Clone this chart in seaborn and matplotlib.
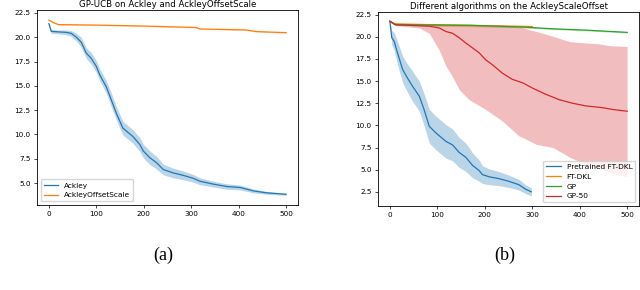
import numpy as np
import matplotlib
matplotlib.use("Agg")
import matplotlib.pyplot as plt
import seaborn as sns

# (a) GP-UCB on Ackley / AckleyOffsetScale
ack_x = [0, 5, 20, 37, 47, 58, 68, 79, 89, 100, 107, 121, 132, 142, 156, 177, 192,
         199, 213, 227, 241, 262, 283, 304, 318, 346, 375, 403, 431, 459, 500]
ack_y = [21.4, 20.6, 20.55, 20.5, 20.4, 20.0, 19.5, 18.35, 17.85, 17.0, 16.15, 14.9,
         13.5, 12.2, 10.65, 9.8, 8.95, 8.3, 7.6, 7.1, 6.4, 6.05, 5.8, 5.5, 5.2, 4.9,
         4.65, 4.55, 4.2, 4.0, 3.85]
ack_sd = [0.1, 0.2, 0.2, 0.25, 0.3, 0.4, 0.5, 0.55, 0.6, 0.6, 0.6, 0.65, 0.7, 0.7,
          0.7, 0.7, 0.7, 0.7, 0.7, 0.65, 0.55, 0.5, 0.45, 0.4, 0.35, 0.3, 0.28, 0.25,
          0.2, 0.15, 0.1]

off_x = [0, 10, 20, 100, 200, 310, 318, 415, 438, 500]
off_y = [21.75, 21.5, 21.3, 21.25, 21.15, 21.0, 20.85, 20.75, 20.58, 20.47]
off_sd = [0.05, 0.05, 0.05, 0.05, 0.05, 0.05, 0.05, 0.05, 0.05, 0.05]

# (b) different algorithms on AckleyScaleOffset
pre_x = [0, 4, 9, 16, 27, 37, 48, 62, 72, 83, 97, 118, 132, 146, 160, 174, 188, 195,
         209, 229, 250, 272, 286, 298]
pre_y = [21.75, 19.9, 19.5, 18.2, 16.3, 15.35, 14.4, 13.3, 11.8, 9.9, 9.15, 8.2, 7.8,
         6.95, 6.4, 5.5, 4.9, 4.45, 4.2, 4.0, 3.7, 3.3, 2.8, 2.5]
pre_sd = [0.0, 0.8, 1.0, 1.3, 1.5, 1.6, 1.7, 1.7, 1.8, 1.9, 1.9, 1.9, 1.8, 1.7, 1.6,
          1.4, 1.2, 1.0, 0.9, 0.8, 0.7, 0.6, 0.5, 0.45]

ft_x = [0, 10, 100, 200, 300]
ft_y = [21.75, 21.45, 21.35, 21.25, 21.15]
ft_sd = [0.1, 0.15, 0.15, 0.15, 0.15]

gp_x = [0, 10, 50, 170, 281, 344, 414, 500]
gp_y = [21.75, 21.4, 21.35, 21.3, 21.1, 20.9, 20.75, 20.5]
gp_sd = [0.05, 0.08, 0.08, 0.08, 0.08, 0.08, 0.08, 0.08]

g50_x = [0, 13, 83, 104, 118, 132, 146, 160, 174, 188, 202, 216, 237, 258, 280, 301,
         329, 357, 385, 413, 448, 469, 500]
g50_y = [21.75, 21.35, 21.2, 21.0, 20.6, 20.4, 19.9, 19.3, 18.75, 18.2, 17.4, 16.85,
         15.9, 15.2, 14.8, 14.2, 13.5, 12.9, 12.5, 12.2, 12.0, 11.8, 11.6]
g50_band_x = [0, 13, 62, 83, 104, 118, 132, 146, 167, 202, 237, 272, 281, 309, 344,
              379, 414, 441, 463, 483, 500]
g50_hi = [21.8, 21.45, 21.4, 21.4, 21.35, 21.35, 21.3, 21.3, 21.3, 21.25, 21.2, 21.1,
          21.0, 20.6, 20.05, 19.45, 19.3, 19.2, 19.0, 18.95, 18.9]
g50_lo = [21.7, 21.25, 21.0, 20.4, 18.5, 16.7, 15.5, 14.05, 12.9, 11.8, 10.5, 8.8,
          8.6, 7.85, 7.5, 6.4, 5.6, 5.1, 4.75, 4.4, 4.2]

pal = sns.color_palette("tab10")
W, H = 640, 290
fig = plt.figure(figsize=(6.4, 2.9), dpi=100)
ax1 = fig.add_axes([37 / W, 1 - 205 / H, 261 / W, 195 / H])
ax2 = fig.add_axes([378 / W, 1 - 206 / H, 261 / W, 194 / H])


def band(ax, x, y, sd, c):
    y = np.array(y)
    sd = np.array(sd)
    ax.fill_between(x, y - sd, y + sd, color=c, alpha=0.3, lw=0)


band(ax1, ack_x, ack_y, ack_sd, pal[0])
sns.lineplot(x=ack_x, y=ack_y, ax=ax1, color=pal[0], lw=0.9, label="Ackley")
band(ax1, off_x, off_y, off_sd, pal[1])
sns.lineplot(x=off_x, y=off_y, ax=ax1, color=pal[1], lw=0.9, label="AckleyOffsetScale")
ax1.set_title("GP-UCB on Ackley and AckleyOffsetScale", fontsize=6.2, pad=2)
ax1.legend(loc="lower left", fontsize=5.3)

band(ax2, pre_x, pre_y, pre_sd, pal[0])
sns.lineplot(x=pre_x, y=pre_y, ax=ax2, color=pal[0], lw=0.9, label="Pretrained FT-DKL")
band(ax2, ft_x, ft_y, ft_sd, pal[1])
sns.lineplot(x=ft_x, y=ft_y, ax=ax2, color=pal[1], lw=0.9, label="FT-DKL")
band(ax2, gp_x, gp_y, gp_sd, pal[2])
sns.lineplot(x=gp_x, y=gp_y, ax=ax2, color=pal[2], lw=0.9, label="GP")
ax2.fill_between(g50_band_x, g50_lo, g50_hi, color=pal[3], alpha=0.3, lw=0)
sns.lineplot(x=g50_x, y=g50_y, ax=ax2, color=pal[3], lw=0.9, label="GP-50")
ax2.set_title("Different algorithms on the AckleyScaleOffset", fontsize=6.2, pad=2)
ax2.legend(loc="lower right", fontsize=5.3)

for ax in (ax1, ax2):
    ax.set_xticks([0, 100, 200, 300, 400, 500])
    ax.set_yticks([2.5, 5.0, 7.5, 10.0, 12.5, 15.0, 17.5, 20.0, 22.5])
    ax.set_xlim(-25, 525)
    ax.tick_params(labelsize=5.2, length=2.5, width=0.5, pad=2)
    for s in ax.spines.values():
        s.set_linewidth(0.6)
ax1.set_ylim(2.75, 22.8)
ax2.set_ylim(0.9, 22.8)

fig.text(163 / W, 1 - 255 / H, "(a)", ha="center", va="center",
         family="Liberation Serif", fontsize=13)
fig.text(505 / W, 1 - 255 / H, "(b)", ha="center", va="center",
         family="Liberation Serif", fontsize=13)

fig.savefig("out.png", dpi=100)
